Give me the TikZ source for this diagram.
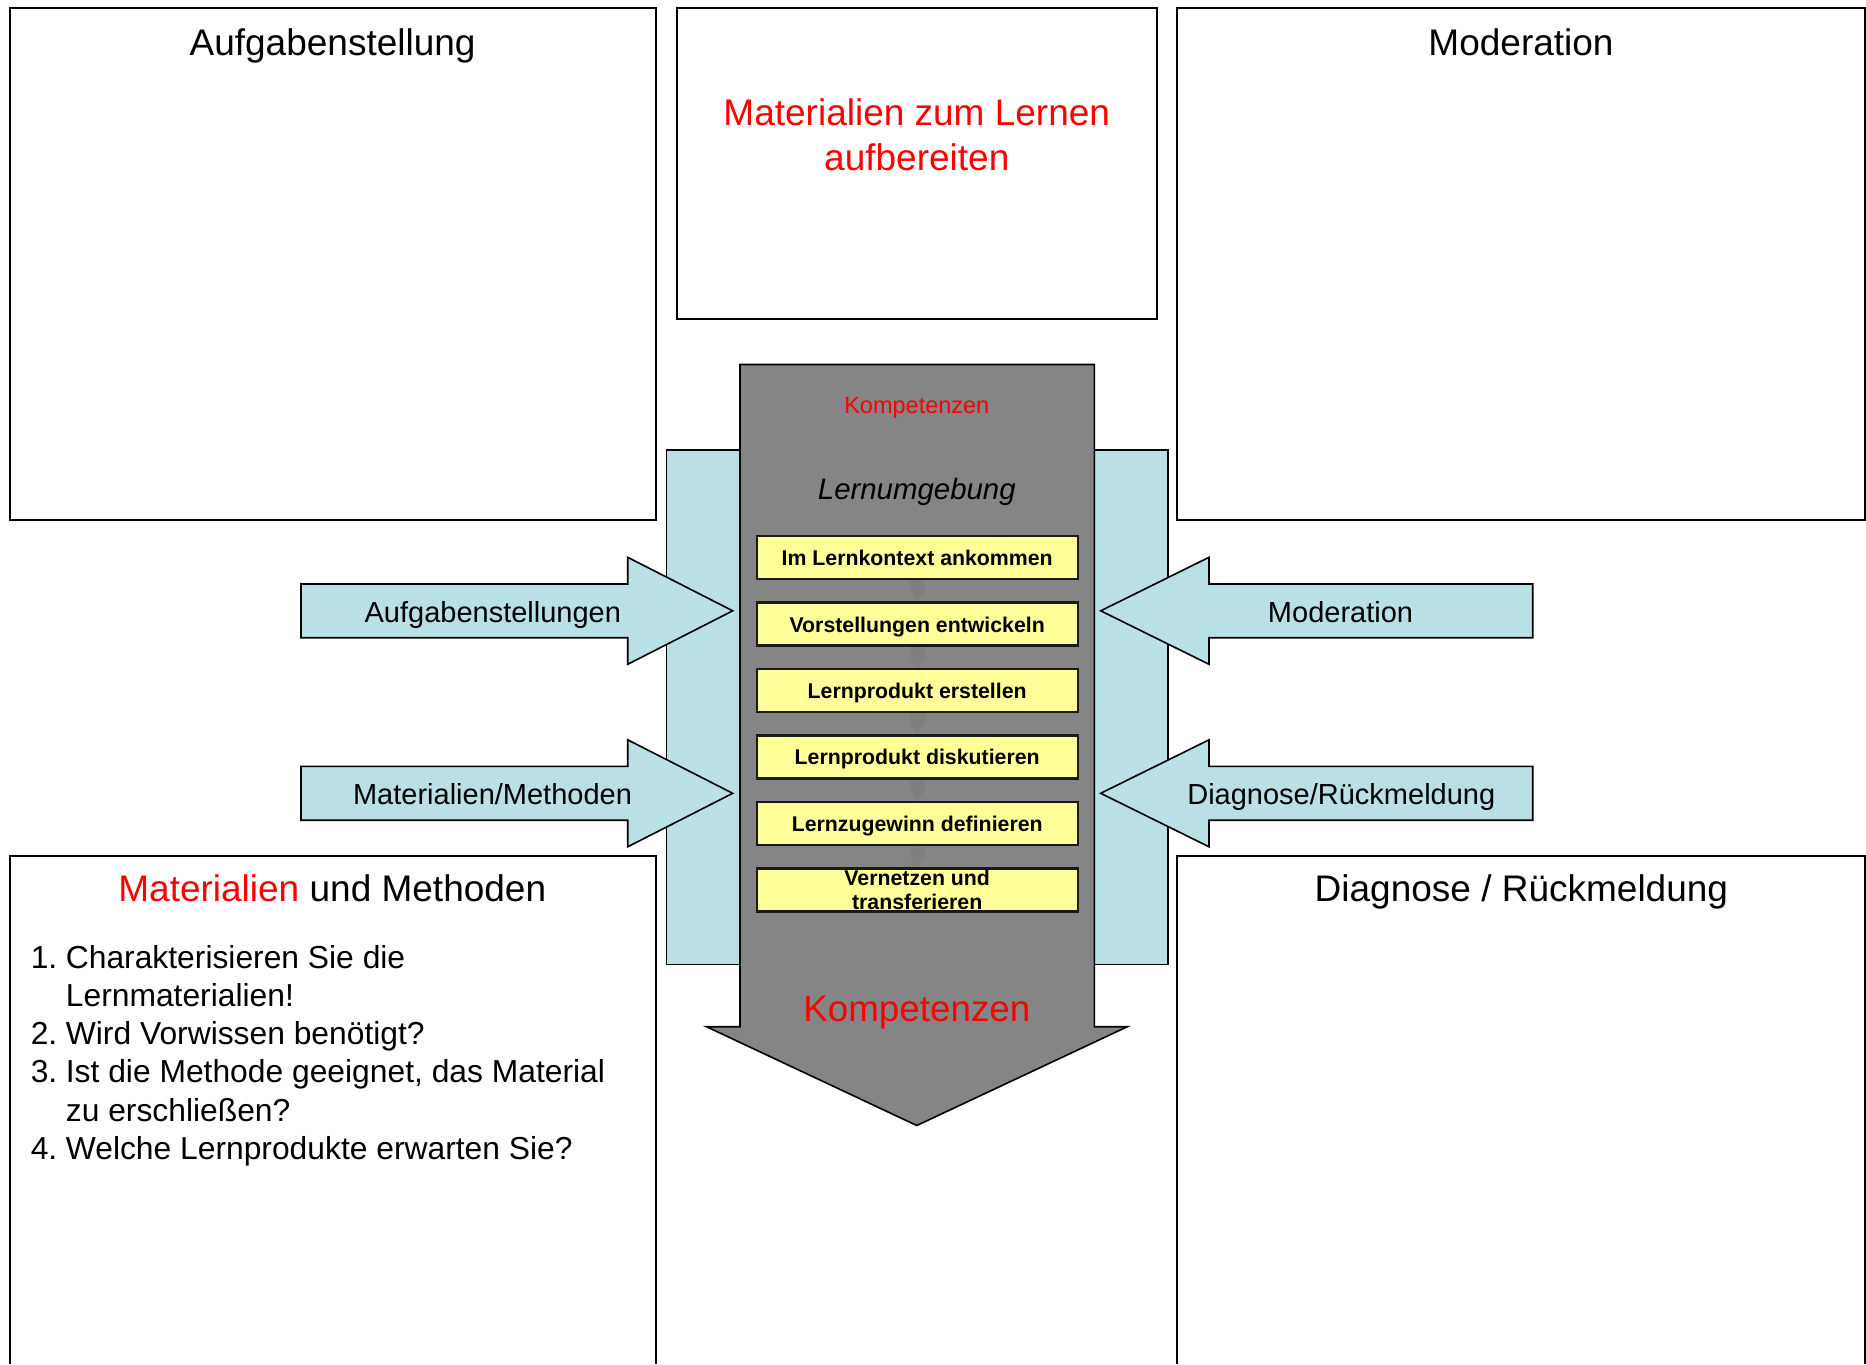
\documentclass[tikz,border=0pt]{standalone}
\usepackage{fontspec}
\setmainfont{Liberation Sans}
\definecolor{lblue}{RGB}{185,224,228}
\definecolor{agray}{RGB}{133,133,133}
\definecolor{sgray}{RGB}{127,127,127}
\definecolor{ylw}{RGB}{255,255,153}
\definecolor{tred}{RGB}{255,0,0}
\begin{document}
\begin{tikzpicture}[x=0.5pt,y=-0.5pt,
  frame/.style={draw=black, line width=1pt},
  blockarrow/.style={draw=black, line width=0.8pt, fill=lblue},
  stepbox/.style={draw=black!90, line width=1.2pt, fill=ylw, minimum width=160.5pt, minimum height=21.5pt, inner sep=0pt},
  title/.style={font=\fontsize{18.5}{22.3}\selectfont, anchor=base, inner sep=0pt},
  arrowlabel/.style={font=\fontsize{14.5}{17.4}\selectfont, anchor=base, inner sep=0pt},
  steptext/.style={font=\bfseries\fontsize{10.65}{12.2}\selectfont, anchor=base, inner sep=0pt},
  listtext/.style={font=\fontsize{15.9}{19.1}\selectfont, anchor=base west, inner sep=0pt}
]
\useasboundingbox (0,0) rectangle (1866,1364);
\fill[white] (0,0) rectangle (1866,1364);

% outer frames
\draw[frame] (9.5,8) rectangle (655.7,520);
\draw[frame] (677.3,8) rectangle (1156.7,319.3);
\draw[frame] (1177.2,8) rectangle (1864.8,520);
\draw[frame] (9.5,1364) -- (9.5,855.5) -- (655.7,855.5) -- (655.7,1364);
\draw[frame] (1177.2,1364) -- (1177.2,855.5) -- (1864.8,855.5) -- (1864.8,1364);

% light blue background block
\draw[blockarrow] (666.5,450) rectangle (1167.7,964.5);

% big gray arrow
\draw[draw=black, line width=0.8pt, fill=agray]
  (740,364.5) -- (1094.3,364.5) -- (1094.3,1026.7) -- (1127.3,1026.7)
  -- (916.8,1125.5) -- (706.5,1026.7) -- (740,1026.7) -- cycle;

% small arrows between steps
\foreach \b/\t in {579/602.5, 645.5/669, 712/735.3, 778.3/801.8, 844.8/868.3}{
  \fill[sgray] (909.5,\b) -- (925,\b) -- (925,\b+11) -- (917.2,\t) -- (909.5,\b+11) -- cycle;
}

% block arrows left
\draw[blockarrow] (301,584) -- (627.7,584) -- (627.7,557.3) -- (732.7,610.8)
  -- (627.7,664.3) -- (627.7,637.7) -- (301,637.7) -- cycle;
\draw[blockarrow] (301,766.4) -- (627.7,766.4) -- (627.7,739.8) -- (732.7,793.3)
  -- (627.7,846.8) -- (627.7,820.2) -- (301,820.2) -- cycle;
% block arrows right
\draw[blockarrow] (1532.7,584) -- (1209,584) -- (1209,557.3) -- (1100.7,610.8)
  -- (1209,664.3) -- (1209,637.7) -- (1532.7,637.7) -- cycle;
\draw[blockarrow] (1532.7,766.4) -- (1209,766.4) -- (1209,739.8) -- (1100.7,793.3)
  -- (1209,846.8) -- (1209,820.2) -- (1532.7,820.2) -- cycle;

% step boxes
\node[stepbox] (s1) at (917.2,557.5) {};
\node[stepbox] (s2) at (917.2,624) {};
\node[stepbox] (s3) at (917.2,690.5) {};
\node[stepbox] (s4) at (917.2,756.8) {};
\node[stepbox] (s5) at (917.2,823.3) {};
\node[stepbox] (s6) at (917.2,889.8) {};
\node[steptext] (t1) at (917.2,565.6) {Im Lernkontext ankommen};
\node[steptext] (t2) at (917.2,632.1) {Vorstellungen entwickeln};
\node[steptext] (t3) at (917.2,698.6) {Lernprodukt erstellen};
\node[steptext] (t4) at (917.2,764.9) {Lernprodukt diskutieren};
\node[steptext] (t5) at (917.2,831.4) {Lernzugewinn definieren};
\node[steptext] (t6a) at (917.2,885) {Vernetzen und};
\node[steptext] (t6b) at (917.2,909.8) {transferieren};

% texts in the gray arrow
\node[anchor=base, inner sep=0pt, text=tred, font=\fontsize{11.75}{14}\selectfont] (komp1) at (916.8,413) {Kompetenzen};
\node[anchor=base, inner sep=0pt, font=\itshape\fontsize{14.7}{17.6}\selectfont] (lern) at (916.8,499.5) {Lernumgebung};
\node[anchor=base, inner sep=0pt, text=tred, font=\fontsize{18.4}{22}\selectfont] (komp2) at (916.8,1021) {Kompetenzen};

% arrow labels
\node[arrowlabel] (la1) at (492.8,622.7) {Aufgabenstellungen};
\node[arrowlabel] (la2) at (492.5,804) {Materialien/Methoden};
\node[arrowlabel] (ra1) at (1340.5,622.7) {Moderation};
\node[arrowlabel] (ra2) at (1341.3,804) {Diagnose/Rückmeldung};

% titles
\node[title] (ttl) at (332.6,55.5) {Aufgabenstellung};
\node[title] (ttr) at (1521,55.5) {Moderation};
\node[title, text=tred] (tm1) at (916.8,126) {Materialien zum Lernen};
\node[title, text=tred] (tm2) at (916.8,170.7) {aufbereiten};
\node[title] (tbl) at (332.3,901.7) {\textcolor{tred}{Materialien} und Methoden};
\node[title] (tbr) at (1521.4,901.7) {Diagnose / Rückmeldung};

% list
\node[listtext] (n1) at (30.4,968) {1.};
\node[listtext] (l1) at (65.5,968) {Charakterisieren Sie die};
\node[listtext] (l1b) at (65.5,1006.3) {Lernmaterialien!};
\node[listtext] (n2) at (30.4,1044.6) {2.};
\node[listtext] (l2) at (65.5,1044.6) {Wird Vorwissen benötigt?};
\node[listtext] (n3) at (30.4,1082.9) {3.};
\node[listtext] (l3) at (65.5,1082.9) {Ist die Methode geeignet, das Material};
\node[listtext] (l3b) at (65.5,1121.2) {zu erschließen?};
\node[listtext] (n4) at (30.4,1159.5) {4.};
\node[listtext] (l4) at (65.5,1159.5) {Welche Lernprodukte erwarten Sie?};
\end{tikzpicture}
\end{document}
